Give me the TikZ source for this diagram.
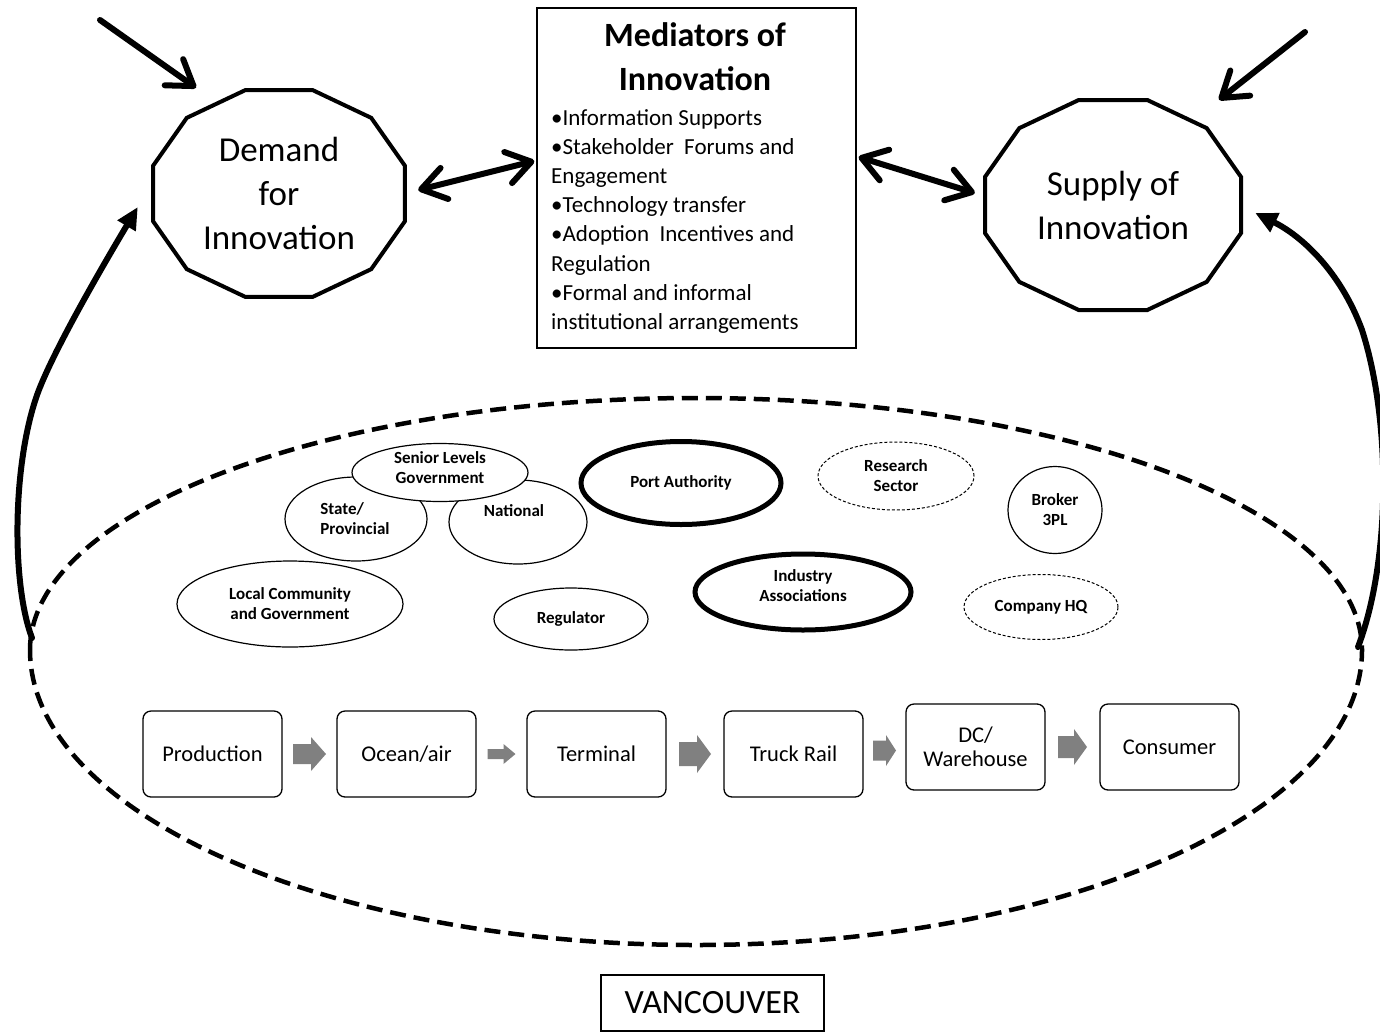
\documentclass[tikz,border=0pt]{standalone}
\usepackage{fontspec}
\setmainfont{Carlito}
\usetikzlibrary{arrows.meta,shapes.geometric,calc}
\tikzset{
  barb/.tip={Straight Barb[length=24pt,width=32pt,round]},
  bigarrow/.style={line width=6pt, line cap=round, -barb},
  dblarrow/.style={line width=6pt, line cap=round, barb-barb},
  curvearrow/.style={line width=6pt, line cap=round, -{Triangle[length=22pt,width=20pt]}},
  poly/.style={line width=4pt, line join=miter},
  hub/.style={rectangle, draw=none, inner sep=0pt, align=center, font=\fontsize{35}{44}\selectfont},
  medbox/.style={rectangle, draw, line width=1.3pt, inner sep=0pt},
  medtitle/.style={anchor=base, inner sep=0pt, font=\fontsize{34}{44}\selectfont\bfseries},
  medline/.style={anchor=base west, inner sep=0pt, font=\fontsize{23}{29}\selectfont},
  ell/.style={ellipse, draw, fill=white, line width=1.2pt, inner sep=0pt, align=center, font=\fontsize{17}{20}\selectfont\bfseries},
  thickell/.style={ell, line width=5pt},
  dashell/.style={ell, line width=1pt, dash pattern=on 3pt off 2pt},
  etext/.style={inner sep=0pt, align=center, font=\fontsize{17}{20}\selectfont\bfseries},
  flowbox/.style={rectangle, rounded corners=8pt, draw, line width=1.3pt, minimum width=139pt, minimum height=86pt, inner sep=0pt, align=center, font=\fontsize{22.5}{24}\selectfont},
  bigdash/.style={line width=4.5pt, dash pattern=on 16pt off 8pt},
  vbox/.style={rectangle, draw, line width=1.3pt, inner sep=0pt, font=\fontsize{34}{40}\selectfont}
}
\newcommand\grayarrow[5]{%
  \fill[black!50, shift={(#1)}] ({-#2/2},{-#4/2}) -- ({#2/2-#5},{-#4/2}) -- ({#2/2-#5},{-#3/2}) -- ({#2/2},0) -- ({#2/2-#5},{#3/2}) -- ({#2/2-#5},{#4/2}) -- ({-#2/2},{#4/2}) -- cycle;}
\begin{document}
\begin{tikzpicture}[x=1pt,y=-1pt]
\useasboundingbox (0,0) rectangle (1380,1031);

% big dashed ellipse
\draw[bigdash] (30,650) arc[start angle=180, end angle=360, x radius=666, y radius=252]
  arc[start angle=0, end angle=180, x radius=666, y radius=295];

% hubs
\node[hub, minimum width=252pt, minimum height=207pt] (dem) at (279,193.5) {Demand\\for\\Innovation};
\draw[poly, shift={(dem.center)}] plot[samples at={15,45,...,345}, variable=\t] ({130.4*cos(\t)},{107*sin(\t)}) -- cycle;
\node[hub, minimum width=256pt, minimum height=210pt] (sup) at (1113,205) {Supply of\\Innovation};
\draw[poly, shift={(sup.center)}] plot[samples at={15,45,...,345}, variable=\t] ({132.5*cos(\t)},{108.7*sin(\t)}) -- cycle;

% mediators box
\node[medbox, minimum width=319pt, minimum height=340pt] (med) at (696.5,178) {};
\node[medtitle] (mt1) at (695,46) {Mediators of};
\node[medtitle] (mt2) at (695,90) {Innovation};
\node[medline] (b1) at (551,125) {•Information Supports};
\node[medline] (b2) at (551,154) {•Stakeholder\ \ Forums and};
\node[medline] (b3) at (551,183) {Engagement};
\node[medline] (b4) at (551,212) {•Technology transfer};
\node[medline] (b5) at (551,241) {•Adoption\ \ Incentives and};
\node[medline] (b6) at (551,271) {Regulation};
\node[medline] (b7) at (551,300) {•Formal and informal};
\node[medline] (b8) at (551,329) {institutional arrangements};

% arrows at top
\coordinate (tl) at (100,20);
\coordinate (tr) at (1305,32);
\draw[bigarrow] (tl) -- ($(dem.north)+(-83,-2)$);
\draw[bigarrow] (tr) -- ($(sup.north)+(106,0)$);
\draw[dblarrow] ($(dem.east)+(13,-3.5)$) -- ($(med.west)+(-2,-17)$);
\draw[dblarrow] ($(med.east)+(2,-21)$) -- ($(sup.west)+(-10,-12)$);

% curved feedback arrows
\coordinate (lpt) at (32,638);
\coordinate (rpt) at (1358,647);
\draw[curvearrow] (lpt) .. controls (12,585) and (12,470) .. (36,398)
  .. controls (50,356) and (105,262) .. ($(dem.west)+(-15,13.5)$);
\draw[curvearrow] (rpt) .. controls (1391,560) and (1391,420) .. (1362,330)
  .. controls (1340,270) and (1300,235) .. ($(sup.east)+(14,8)$);

% stakeholder ellipses
\node[ell, minimum width=142pt, minimum height=84pt] (stp) at (356,519) {};
\node[etext, align=left] (stpt) at (355,518.5) {State/\\Provincial};
\node[ell, minimum width=138pt, minimum height=84pt] (nat) at (518,522) {};
\node[etext] (natt) at (514,511) {National};
\node[ell, minimum width=176pt, minimum height=58pt] (sen) at (440,472.5) {};
\node[etext] (sent) at (440,467.5) {Senior Levels\\Government};
\node[ell, minimum width=226pt, minimum height=86pt] (loc) at (290,604) {Local Community\\and Government};
\node[ell, minimum width=154pt, minimum height=62pt] (reg) at (571,619) {Regulator};
\node[thickell, minimum width=200pt, minimum height=83pt] (port) at (681,483) {Port Authority};
\node[dashell, minimum width=156pt, minimum height=68pt] (res) at (896,476) {Research\\Sector};
\node[ell, minimum width=94pt, minimum height=87pt] (brk) at (1055,510) {Broker\\3PL};
\node[thickell, minimum width=216pt, minimum height=76pt] (ind) at (803,592) {};
\node[etext] (indt) at (803,586) {Industry\\Associations};
\node[dashell, minimum width=154pt, minimum height=65pt] (chq) at (1041,607) {Company HQ};

% supply chain
\node[flowbox] (p1) at (212.5,754) {Production};
\node[flowbox] (p2) at (406.5,754) {Ocean/air};
\node[flowbox] (p3) at (596.5,754) {Terminal};
\node[flowbox] (p4) at (793.5,754) {Truck Rail};
\node[flowbox] (p5) at (975.5,747) {DC/\\Warehouse};
\node[flowbox] (p6) at (1169.5,747) {Consumer};
\coordinate (g1) at ($(p1.east)!0.5!(p2.west)$);
\coordinate (g2) at ($(p2.east)!0.5!(p3.west)$);
\coordinate (g3) at ($(p3.east)!0.5!(p4.west)$);
\coordinate (g4) at ($(p4.east)!0.5!(p5.west)$);
\coordinate (g5) at ($(p5.east)!0.5!(p6.west)$);
\grayarrow{g1}{33}{34}{20}{15}
\grayarrow{g2}{28}{20}{10}{12}
\grayarrow{g3}{32}{38}{24}{14}
\grayarrow{g4}{23}{31}{20}{10}
\grayarrow{g5}{29}{36}{22}{13}

% city label
\node[vbox, minimum width=223pt, minimum height=56pt] (van) at (712.5,1003) {VANCOUVER};
\end{tikzpicture}
\end{document}
